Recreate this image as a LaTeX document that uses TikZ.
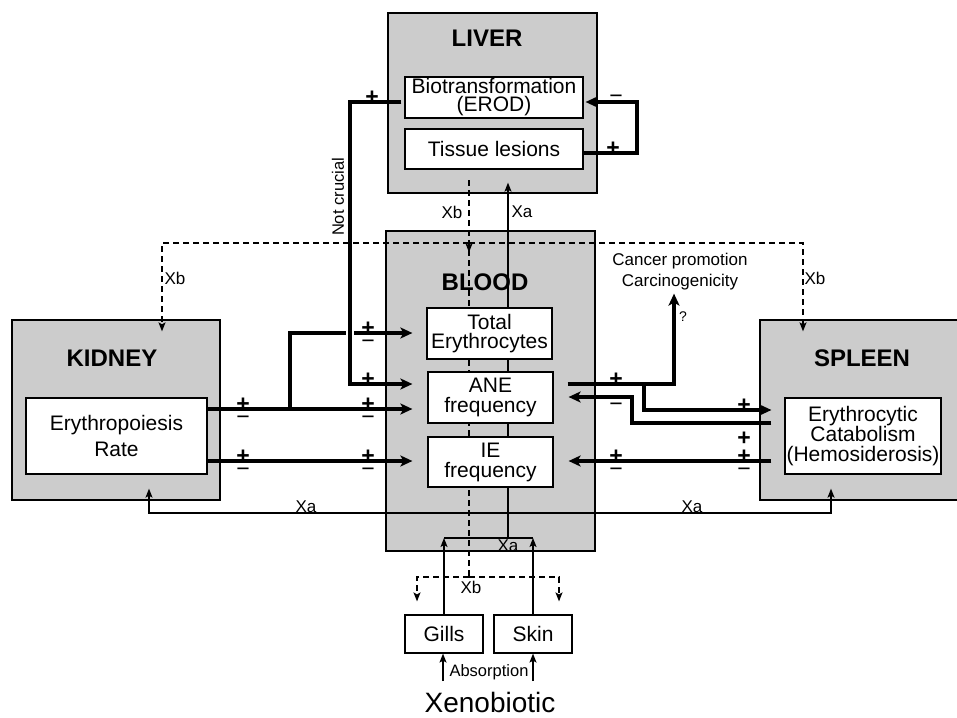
\documentclass[tikz,border=0pt]{standalone}
\usepackage{fontspec}
\setmainfont{Liberation Sans}
\usetikzlibrary{arrows.meta,calc}
\definecolor{organ}{RGB}{204,204,204}
\tikzset{organbox/.style={draw,line width=1.3pt,fill=organ,inner sep=0pt},
cellbox/.style={draw,line width=1.2pt,fill=white,align=center,inner sep=1pt,font=\fontsize{21}{20}\selectfont},
ttl/.style={font=\bfseries\fontsize{24}{24}\selectfont,inner sep=0pt},
lbl/.style={font=\fontsize{17}{17}\selectfont,inner sep=0pt},
thk/.style={line width=4pt,>={Stealth[length=12pt,width=11pt,inset=3pt]}},
thn/.style={line width=1.3pt,>={Stealth[length=9pt,width=7pt,inset=2pt]}},
dsh/.style={thn,dash pattern=on 6pt off 4pt},
pl/.style={font=\bfseries\fontsize{23}{23}\selectfont,inner sep=0pt,anchor=base},
mi/.style={font=\fontsize{23}{23}\selectfont,inner sep=0pt,anchor=base}}
\newcommand\sgnp[3]{\node[pl](#1)at(#2,#3+2){+};}
\newcommand\sgnm[3]{\node[mi](#1)at(#2,#3+15){−};}
\newcommand\sgnpm[3]{\sgnp{#1p}{#2}{#3}\sgnm{#1m}{#2}{#3}}
\begin{document}
\begin{tikzpicture}[x=1pt,y=-1pt]
\useasboundingbox(0,0)rectangle(957,717);
% organs
\node[organbox,minimum width=209,minimum height=180](liver)at(492.5,103){};\node[ttl](livert)at(487,38){LIVER};
\node[organbox,minimum width=209,minimum height=320](blood)at(490.5,391){};\node[ttl](bloodt)at(485,282){BLOOD};
\node[organbox,minimum width=208,minimum height=180](kidney)at(116,410){};\node[ttl](kidneyt)at(112,358){KIDNEY};
\node[organbox,minimum width=210,minimum height=180](spleen)at(865,410){};\node[ttl](spleent)at(862,358){SPLEEN};
% boxes outside the blood
\node[cellbox,minimum width=178,minimum height=41,font=\fontsize{21}{18}\selectfont](biot)at(494,97.5){Biotransformation\\(EROD)};
\node[cellbox,minimum width=178,minimum height=40](tiss)at(494,149){Tissue lesions};
\node[cellbox,minimum width=181,minimum height=76,font=\fontsize{21}{26}\selectfont](ery)at(116.5,436){Erythropoiesis\\Rate};
\node[cellbox,minimum width=156,minimum height=76,font=\fontsize{21}{19.5}\selectfont](cat)at(863,436){Erythrocytic\\Catabolism\\(Hemosiderosis)};
\node[cellbox,minimum width=78,minimum height=38](gills)at(444,634){Gills};
\node[cellbox,minimum width=78,minimum height=38](skin)at(533,634){Skin};
% Xb (dashed) and Xa (thin) routes
\coordinate(xb0)at(469,180);\coordinate(xb1)at(469,243);\coordinate(xb2)at(469,577);
\draw[dsh](xb0)--(xb2);\draw[dsh,->](xb0)--($(xb0|-blood.north)+(0,22)$);
\draw[dsh,->](xb1)-|($(kidney.north)+(46,12)$);\draw[dsh,->](xb1)-|($(spleen.north)+(-62,12)$);
\draw[dsh,->](xb2)-|($(gills.north)+(-27,-13)$);\draw[dsh,->](xb2)-|($(skin.north)+(26,-13)$);
\coordinate(xa0)at(508,538);\coordinate(xa1)at(508,513);
\draw[thn,->](xa0)--($(xa0|-liver.south)+(0,-11)$);\draw[thn](gills.north|-xa0)--(skin.north|-xa0);
\draw[thn,->](gills.north)--(gills.north|-xa0);\draw[thn,->](skin.north)--(skin.north|-xa0);
\draw[thn,->](xa1)-|($(kidney.south)+(33,-12)$);\draw[thn,->](xa1)-|($(spleen.south)+(-34,-12)$);
\coordinate(ag)at(443,681);\coordinate(as)at(533,681);
\draw[thn,->](ag)--(ag|-gills.south);\draw[thn,->](as)--(as|-skin.south);
\node[lbl](xb3)at(452,212){Xb};\node[lbl](xa3)at(522,212){Xa};\node[lbl](xb4)at(175,278){Xb};\node[lbl](xb5)at(815,278){Xb};
\node[lbl,anchor=south](xa4)at(306,512.5){Xa};\node[lbl,anchor=south](xa5)at(692,512.5){Xa};
\node[lbl](xa6)at(508,546){Xa};\node[lbl](xb6)at(471,587){Xb};
% boxes in the blood
\node[cellbox,minimum width=125,minimum height=51,font=\fontsize{21}{19}\selectfont](tot)at(489.5,333.5){Total\\Erythrocytes};
\node[cellbox,minimum width=125,minimum height=51](ane)at(490.5,397.5){ANE\\frequency};
\node[cellbox,minimum width=125,minimum height=50](ie)at(490.5,462){IE\\frequency};
% thick effect lines
\coordinate(r1)at(0,409);\coordinate(r2)at(0,461);\coordinate(r3)at(0,333);\coordinate(r4)at(0,384);\coordinate(r5)at(0,410);\coordinate(r6)at(0,423);\coordinate(r7)at(0,397);
\draw[thk,->,shorten >=15pt](ery.east|-r1)--(ane.west|-r1);\draw[thk,->,shorten >=15pt](ery.east|-r2)--(ie.west|-r2);
\coordinate(k1)at(290,409);\coordinate(k2)at(346,333);\coordinate(k3)at(354,333);
\draw[thk](k1)|-(k2);\draw[thk,->,shorten >=14pt](k3)--(tot.west|-r3);
\coordinate(nc)at(350,384);
\draw[thk,->,shorten >=15pt]($(biot.west)+(-3,4.5)$)-|(nc)--(ane.west|-r4);
\node[lbl,rotate=90,font=\fontsize{16.5}{16.5}\selectfont](ncl)at(338,197){Not crucial};
\draw[thk,->]($(tiss.east)+(0,4)$)-|($(biot.east)+(53,4.5)$)--($(biot.east)+(2,4.5)$);
\node[lbl,align=center,font=\fontsize{17}{21}\selectfont](cancer)at(680,272){Cancer promotion\\Carcinogenicity};
\coordinate(c1)at(674,384);\coordinate(c2)at(644,384);\coordinate(c3)at(632,397);
\draw[thk,->,shorten <=14pt](ane.east|-r4)--(c1)--($(c1|-cancer.south)+(0,3)$);
\node[font=\fontsize{14}{14}\selectfont,inner sep=0pt](q)at(683,317){?};
\draw[thk,->,shorten >=13pt](c2)|-(cat.west|-r5);
\draw[thk,->,shorten <=13pt,shorten >=15pt](cat.west|-r6)-|(c3)--(ane.east|-r7);
\draw[thk,->,shorten <=13pt,shorten >=15pt](cat.west|-r2)--(ie.east|-r2);
% signs
\sgnpm{a}{243}{409}\sgnpm{b}{368}{409}\sgnpm{c}{243}{461}\sgnpm{d}{368}{461}\sgnpm{e}{368}{333}
\sgnp{f}{368}{384}\sgnp{g}{372}{102}\sgnp{h}{616}{384}\sgnp{i}{744}{410}\sgnm{j}{616}{396}
\node[pl](o)at(744,445){+};\sgnpm{k}{616}{461}\sgnpm{l}{744}{461}
\node[mi](n1)at(616,103){−};\sgnp{n2}{613}{153}
% inputs
\node[font=\fontsize{16.5}{16.5}\selectfont,inner sep=0pt](absn)at(489,672){Absorption};
\node[font=\fontsize{28}{28}\selectfont,inner sep=0pt](xeno)at(490,702){Xenobiotic};
\end{tikzpicture}
\end{document}
